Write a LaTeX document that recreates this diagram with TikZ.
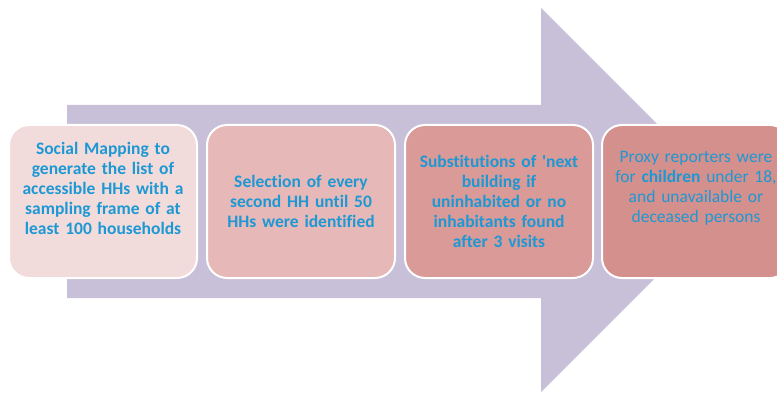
\documentclass[tikz,border=0pt]{standalone}
\usepackage{fontspec}
\setmainfont{Carlito}[Ligatures={TeXOff,CommonOff}]
\definecolor{arrowfill}{HTML}{C8BFD8}
\definecolor{stepone}{HTML}{F2DCDB}
\definecolor{steptwo}{HTML}{E6B9B8}
\definecolor{stepthree}{HTML}{D99A98}
\definecolor{stepfour}{HTML}{D4908D}
\definecolor{steptext}{HTML}{1D98D4}
\tikzset{
	stepbox/.style={draw=white,line width=2pt,rounded corners=20pt,minimum width=188pt,minimum height=153pt},
	steplabel/.style={text=steptext,align=center,text width=186pt,font=\fontsize{17.5}{20}\selectfont},
	boldlabel/.style={steplabel,font=\bfseries\fontsize{17.5}{20}\selectfont},
}
\begin{document}
\begin{tikzpicture}[x=1pt,y=-1pt]
		\useasboundingbox (0,0) rectangle (777,393);
		\clip (0,0) rectangle (777,393);
		\fill[arrowfill] (67,105)--(541,105)--(541,8)--(733,200)--(541,392)--(541,298)--(67,298)--cycle;
		\node (b1) at (103,201.5) [stepbox,fill=stepone] {};
		\node (b2) at (301,201.5) [stepbox,fill=steptwo] {};
		\node (b3) at (499,201.5) [stepbox,fill=stepthree] {};
		\node (b4) at (696,201.5) [stepbox,fill=stepfour] {};
		\node (t1) at ([yshift=13pt]b1.center) [boldlabel] {Social Mapping to\\generate the list of\\accessible HHs with a\\sampling frame of at\\least 100 households};
		\node (t2) at (b2.center) [boldlabel] {Selection of every\\second HH until 50\\HHs were identified};
		\node (t3) at (b3.center) [boldlabel] {Substitutions of \textquotesingle next\\building if\\uninhabited or no\\inhabitants found\\after 3 visits};
		\node (t4) at ([yshift=13pt]b4.center) [steplabel] {Proxy reporters were\\for \textbf{children} under 18,\\and unavailable or\\deceased persons};
	\end{tikzpicture}
\end{document}
